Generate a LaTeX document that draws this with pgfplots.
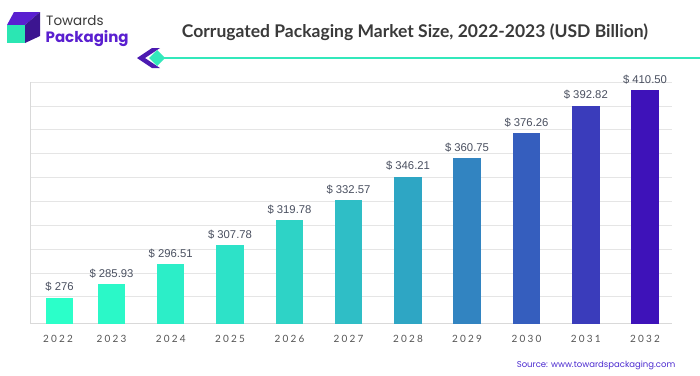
\documentclass[border=0pt]{standalone}
\usepackage{pgfplots}
\pgfplotsset{compat=1.18}
\usepackage{fontspec}
\setmainfont{Lato}
\newfontfamily\poppins{Poppins}
\newfontfamily\valfont{Liberation Sans}
\newfontfamily\yearfont[LetterSpace=22]{Lato}
\definecolor{titlec}{HTML}{3A3A3A}
\definecolor{purp}{HTML}{5A1FD0}
\definecolor{purpd}{HTML}{3C1590}
\definecolor{tealc}{HTML}{2BE6B3}
\definecolor{linec}{HTML}{33E8BB}
\definecolor{valc}{HTML}{4A5060}
\definecolor{yearc}{HTML}{555555}
\definecolor{srcc}{HTML}{4B2AD0}
\definecolor{b1}{HTML}{2BFFC9}
\definecolor{b2}{HTML}{2BF8C8}
\definecolor{b3}{HTML}{2CEEC8}
\definecolor{b4}{HTML}{2DE2C8}
\definecolor{b5}{HTML}{2ED3C6}
\definecolor{b6}{HTML}{2FBEC6}
\definecolor{b7}{HTML}{2EA6C4}
\definecolor{b8}{HTML}{3284C1}
\definecolor{b9}{HTML}{355EBE}
\definecolor{b10}{HTML}{3A3CBB}
\definecolor{b11}{HTML}{3E12B9}
\begin{document}
\begin{tikzpicture}[x=1pt,y=-1pt]
\fill[white] (0,0) rectangle (700,375);
% logo
\fill[purp] (7,25) -- (14,12) -- (40,12) -- (25,25) -- cycle;
\fill[purpd] (25,25) -- (40,12) -- (40,36) -- (25,43) -- cycle;
\fill[tealc] (7,25) rectangle (25,43);
\node[anchor=base west, inner sep=0, text=titlec, font=\poppins\fontsize{13.5}{14}\selectfont] at (46,25) {Towards};
\node[anchor=base west, inner sep=0, text=purp, font=\poppins\bfseries\fontsize{15}{16}\selectfont] at (45.5,42) {Packaging};
% title
\node[anchor=base, inner sep=0, text=titlec, font=\bfseries\fontsize{17.5}{18}\selectfont] at (415,37) {Corrugated Packaging Market Size, 2022-2023 (USD Billion)};
% decoration
\draw[linec, line width=1.6pt] (160,58) -- (700,58);
\fill[purp!85!black] (137,58) -- (152,48) -- (160,48) -- (145,58) -- (160,68) -- (152,68) -- cycle;
\fill[linec] (157,50) -- (165,58) -- (157,66) -- (149,58) -- cycle;
% source
\node[anchor=base east, inner sep=0, text=srcc, font=\poppins\fontsize{8.5}{9}\selectfont] at (675.5,367) {Source: www.towardspackaging.com};
\begin{axis}[
  at={(30pt,-323.5pt)}, anchor=south west,
  scale only axis, width=642pt, height=241.5pt,
  xmin=30, xmax=672, ymin=259.29, ymax=415.69,
  ytick={276.65,292.06,307.54,322.95,338.43,353.84,369.32,384.73,400.21,415.69},
  yticklabels={},
  ymajorgrids, major grid style={draw=black!10, line width=0.8pt},
  axis x line*=bottom, axis y line*=left,
  axis line style={draw=black!15, line width=1pt, -},
  major tick length=0pt,
  xtick={58,111.5,170.7,230,289.5,348.5,408,467,526.5,585.8,645},
  xticklabels={2022,2023,2024,2025,2026,2027,2028,2029,2030,2031,2032},
  xticklabel style={font=\yearfont\fontsize{10}{11}\selectfont, text=yearc, yshift=-8pt},
  ybar, bar width=27.5, bar shift=0pt,
  clip=false,
  every node near coord/.append style={font=\valfont\fontsize{11.3}{12}\selectfont, text=valc, yshift=2.5pt},
]
\addplot[fill=b1, draw=none, nodes near coords={\$ 276}] coordinates {(59.5,276.0)};
\addplot[fill=b2, draw=none, nodes near coords={\$ 285.93}] coordinates {(111.5,284.68)};
\addplot[fill=b3, draw=none, nodes near coords={\$ 296.51}] coordinates {(170.7,297.82)};
\addplot[fill=b4, draw=none, nodes near coords={\$ 307.78}] coordinates {(230,310.13)};
\addplot[fill=b5, draw=none, nodes near coords={\$ 319.78}] coordinates {(289.5,326.32)};
\addplot[fill=b6, draw=none, nodes near coords={\$ 332.57}] coordinates {(348.5,339.27)};
\addplot[fill=b7, draw=none, nodes near coords={\$ 346.21}] coordinates {(408,354.36)};
\addplot[fill=b8, draw=none, nodes near coords={\$ 360.75}] coordinates {(467,366.27)};
\addplot[fill=b9, draw=none, nodes near coords={\$ 376.26}] coordinates {(526.5,382.66)};
\addplot[fill=b10, draw=none, nodes near coords={\$ 392.82}] coordinates {(585.8,400.40)};
\addplot[fill=b11, draw=none, nodes near coords={\$ 410.50}] coordinates {(645,410.51)};
\end{axis}
\pgfresetboundingbox
\useasboundingbox (0,0) rectangle (700,375);
\end{tikzpicture}
\end{document}
